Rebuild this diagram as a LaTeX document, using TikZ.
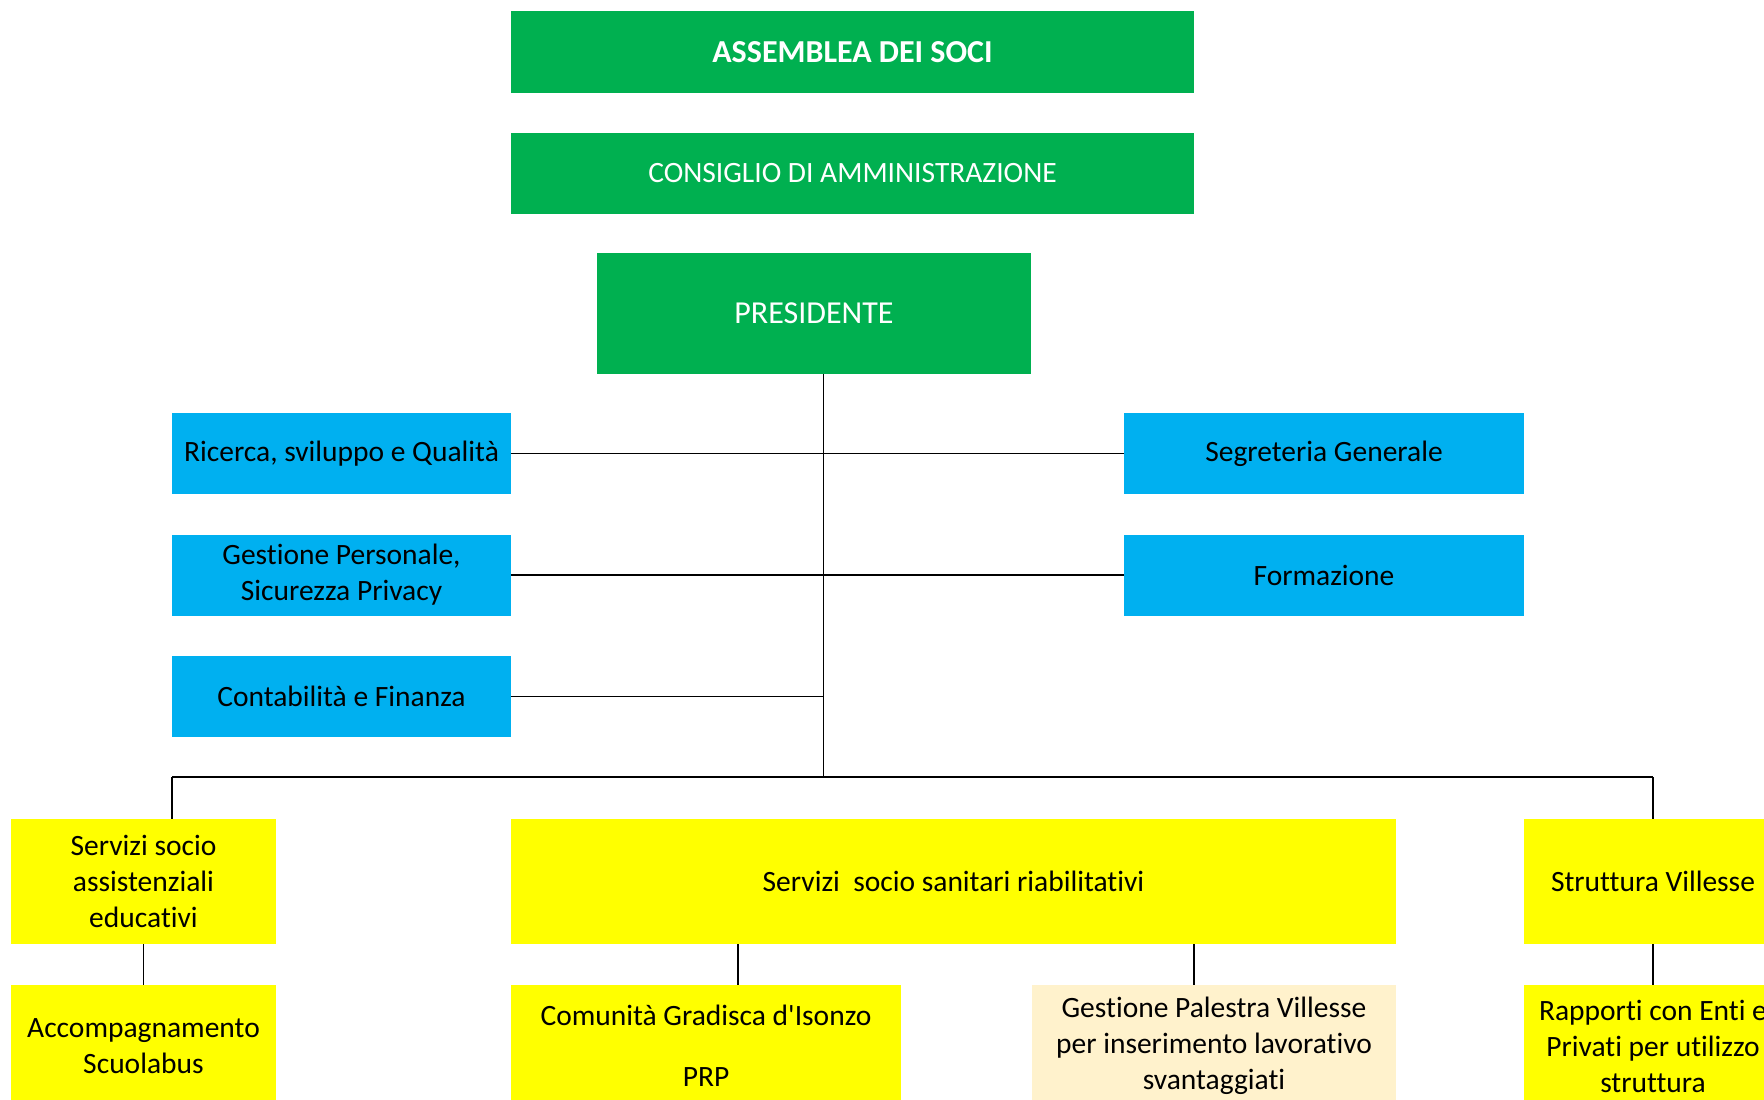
\documentclass[tikz,border=0pt]{standalone}
\usepackage{fontspec}
\setmainfont{Carlito}[Ligatures={TeX,NoCommon}]
\usepackage{tikz}
\usetikzlibrary{shapes,arrows,positioning}
\definecolor{boardgreen}{HTML}{00B050}
\definecolor{staffblue}{HTML}{00B0F0}
\definecolor{unityellow}{HTML}{FFFF00}
\definecolor{unitcream}{HTML}{FFF2CC}
\tikzstyle{greenblock} = [fill=boardgreen, rectangle, text=white, inner sep=0pt, align=center]
\tikzstyle{blueblock} = [fill=staffblue, rectangle, minimum width=339pt, minimum height=81pt, inner sep=0pt, align=center]
\tikzstyle{yellowblock} = [fill=unityellow, rectangle, inner sep=0pt, align=center]
\tikzstyle{line} = [draw, line width=1.8pt]

\begin{document}
\begin{tikzpicture}[x=1pt, y=1pt, node distance=121.5pt, font=\fontsize{29.5}{36}\selectfont]
    \clip (0,0) rectangle (1764,-1100);
    \fill[white] (0,0) rectangle (1764,-1100);
    % Place nodes
    \node [greenblock, minimum width=683pt, minimum height=82pt, font=\fontsize{32}{38}\selectfont] (assemblea) at (852.5,-52) {\textbf{ASSEMBLEA DEI SOCI}};
    \node [greenblock, minimum width=683pt, minimum height=81pt, below of = assemblea] (consiglio) {CONSIGLIO DI AMMINISTRAZIONE};
    \node [greenblock, minimum width=434pt, minimum height=121pt, below of = consiglio, yshift=-18.5pt, xshift=-38.5pt, font=\fontsize{32}{38}\selectfont] (presidente) {PRESIDENTE};

    \node [blueblock] (ricerca) at (341.5,-453.5) {Ricerca, sviluppo e Qualità};
    \node [blueblock, below of = ricerca] (personale) {Gestione Personale,\\ Sicurezza Privacy};
    \node [blueblock, below of = personale] (contabilita) {Contabilità e Finanza};
    \node [blueblock, minimum width=400pt, right of = ricerca, xshift=861pt] (segreteria) {Segreteria Generale};
    \node [blueblock, minimum width=400pt, below of = segreteria] (formazione) {Formazione};

    \node [yellowblock, minimum width=265pt, minimum height=125pt] (assistenziali) at (143.5,-881.5) {Servizi socio\\ assistenziali\\ educativi};
    \node [yellowblock, minimum width=885pt, minimum height=125pt] (sanitari) at (953.5,-881.5) {Servizi~ socio sanitari riabilitativi};
    \node [yellowblock, minimum width=258pt, minimum height=125pt] (villesse) at (1653,-881.5) {Struttura Villesse};

    \node [yellowblock, minimum width=265pt, minimum height=122pt] (scuolabus) at (143.5,-1046) {Accompagnamento\\ Scuolabus};
    \node [yellowblock, minimum width=390pt, minimum height=122pt] (gradisca) at (706,-1046) {Comunità Gradisca d\textquotesingle Isonzo\\[25pt] PRP};
    \node [yellowblock, fill=unitcream, minimum width=364pt, minimum height=122pt] (palestra) at (1214,-1046) {Gestione Palestra Villesse\\ per inserimento lavorativo\\ svantaggiati};
    \node [yellowblock, minimum width=258pt, minimum height=122pt] (rapporti) at (1653,-1046) {Rapporti con Enti e\\ Privati per utilizzo\\ struttura};

    % Bus points
    \coordinate (trunk) at (823.5,-777);
    \coordinate (busleft) at (172,-777);
    \coordinate (busright) at (1653,-777);
    \coordinate (gradiscatop) at (738,-985);
    \coordinate (palestratop) at (1194,-985);

    % Draw edges
    \path [line] (presidente.south -| trunk) -- (trunk);
    \path [line] (ricerca) -- (segreteria);
    \path [line] (personale) -- (formazione);
    \path [line] (contabilita) -- (contabilita -| trunk);
    \path [line] (busleft) -- (busright);
    \path [line] (busleft) -- (assistenziali.north -| busleft);
    \path [line] (busright) -- (villesse.north);
    \path [line] (assistenziali.south -| scuolabus.north) -- (scuolabus.north);
    \path [line] (sanitari.south -| gradiscatop) -- (gradiscatop);
    \path [line] (sanitari.south -| palestratop) -- (palestratop);
    \path [line] (villesse) -- (rapporti);
\end{tikzpicture}
\end{document}
